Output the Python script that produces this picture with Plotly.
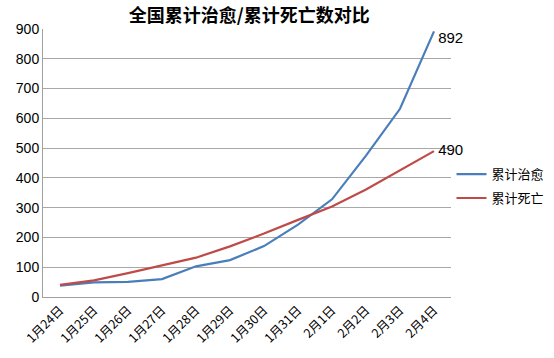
import plotly.graph_objects as go

dates = ["1月24日", "1月25日", "1月26日", "1月27日", "1月28日", "1月29日",
         "1月30日", "1月31日", "2月1日", "2月2日", "2月3日", "2月4日"]
recovered = [38, 49, 51, 60, 103, 124, 171, 243, 328, 475, 632, 892]
deaths = [41, 56, 80, 106, 132, 170, 213, 259, 304, 361, 425, 490]

title = "全国累计治愈/累计死亡数对比"
name_rec = "累计治愈"
name_dea = "累计死亡"

def labels(vals):
    return [""] * (len(vals) - 1) + [" " + str(vals[-1])]

label_font = dict(family="Liberation Sans, sans-serif", size=15, color="#000000")

fig = go.Figure()
fig.add_trace(go.Scatter(
    x=dates, y=recovered, name=name_rec, mode="lines+text", legendgroup="a",
    line=dict(color="#4A7EBB", width=2.2),
    text=labels(recovered), textposition="bottom right",
    textfont=label_font, cliponaxis=False,
))
fig.add_trace(go.Scatter(
    x=dates, y=deaths, name=name_dea, mode="lines+text", legendgroup="b",
    line=dict(color="#BE4B48", width=2.2),
    text=labels(deaths), textposition="middle right",
    textfont=label_font, cliponaxis=False,
))

fig.update_layout(
    width=554, height=358,
    margin=dict(l=43, r=103, t=29, b=61, autoexpand=False),
    paper_bgcolor="white", plot_bgcolor="white",
    title=dict(text="<b>" + title + "</b>", x=0.45, xanchor="center",
               y=0.955, yanchor="middle", yref="container",
               font=dict(family="Noto Sans CJK SC", size=18, color="#000000")),
    legend=dict(x=0.815, xref="container", xanchor="left",
                y=0.48, yref="container", yanchor="middle",
                font=dict(family="Noto Sans CJK SC", size=13, color="#000000"),
                tracegroupgap=4, itemwidth=30),
    showlegend=True,
)
fig.update_xaxes(
    type="category", range=[-0.5, 11.5], tickangle=-45,
    showline=True, linecolor="#A0A0A0", linewidth=1,
    showgrid=False, ticks="",
    tickfont=dict(family="Noto Sans CJK SC", size=12.5, color="#000000"),
)
fig.update_yaxes(
    range=[0, 900], dtick=100, showgrid=True, gridcolor="#A8A8A8", gridwidth=1,
    showline=True, linecolor="#A0A0A0", linewidth=1, zeroline=False,
    ticks="", ticklen=0,
    tickfont=dict(family="Liberation Sans, sans-serif", size=14, color="#000000"),
)

fig.write_html("out.html")
